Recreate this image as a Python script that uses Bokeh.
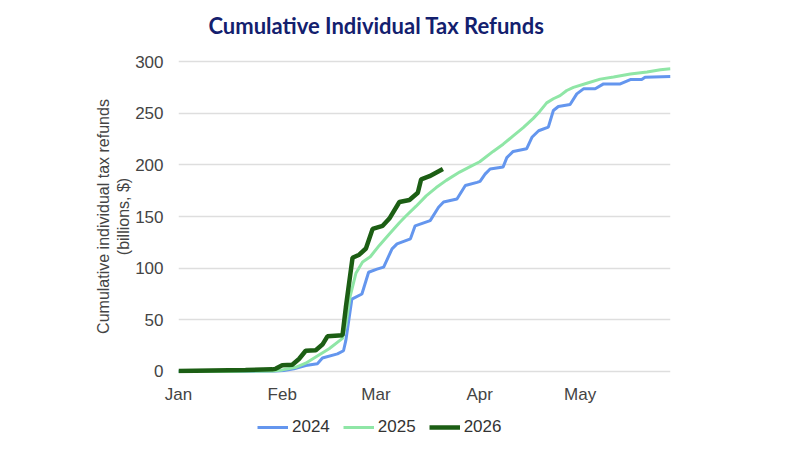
from bokeh.plotting import figure
from bokeh.layouts import column
from bokeh.models import Range1d, FixedTicker, Legend, LegendItem, Label
from bokeh.embed import file_html
from bokeh.resources import INLINE

# x values: day of year (0 = Jan 1)
month_ticks = [0, 31, 59, 90, 120]
month_labels = ["Jan", "Feb", "Mar", "Apr", "May"]
y_ticks = [0, 50, 100, 150, 200, 250, 300]

days_2024 = [0, 15, 29, 31.5, 34.5, 38, 41.5, 43, 47.5, 49.3, 50, 51.8, 54.8, 56.8, 59.3, 61.3,
             63.8, 65.3, 69.3, 70.7, 75.2, 77.7, 79.2, 83.2, 85.7, 89.2, 90.1, 91.6, 93.1, 97,
             98.1, 100, 104, 105.6, 107.6, 110.5, 112, 113.5, 117, 119, 121, 124.5, 127, 132,
             135, 138.4, 139.4, 147]
vals_2024 = [0, 0, 0.5, 1, 2.6, 5.8, 7.4, 13, 17, 20, 30, 70, 75, 96, 99, 101,
             118.7, 123.5, 128.4, 141, 146, 159, 164, 167, 180, 183, 184, 191, 196, 198,
             207, 213, 215.5, 226.7, 233, 236.5, 252.6, 256.5, 258.4, 268.7, 273.6, 273.6, 278.4, 278.4,
             282.6, 282.6, 284.8, 285.5]

days_2025 = [0, 15, 28, 31, 35, 38, 41, 45, 49, 50, 51.3, 53, 55, 57.3, 60, 63, 66, 67.8, 71, 74,
             77, 80, 84, 87, 90, 94, 97, 100, 103, 106, 108, 110, 112, 114, 116, 118, 122, 126,
             130, 135, 140, 144, 147]
vals_2025 = [0, 0, 0.5, 1.5, 4, 8, 14, 22, 32, 45, 73, 95, 106, 111, 122, 133, 144, 150, 160, 170,
             178, 185, 193, 198, 203, 213, 220, 228, 236, 245, 252, 260, 264, 267, 272, 275, 279, 283,
             285, 288, 290, 292, 293]

days_2026 = [0, 10, 20, 28, 29, 31, 34, 36, 38, 41, 43, 44.5, 49, 50, 52, 54, 56, 58, 61, 63, 66,
             69, 71.5, 72.5, 75, 79]
vals_2026 = [0.5, 1, 1.5, 2, 2.5, 6, 6.5, 12, 20, 20.5, 26, 34, 35, 62, 110, 113, 119, 138, 141,
             148, 164, 166, 173, 186, 189, 196]

series_names = ["2024", "2025", "2026"]
series_colors = ["#6496ee", "#8fe6a6", "#1c5e14"]
series_widths = [3, 3, 4.5]

FONT = "Liberation Sans"
W = 792
BL, BR = 178, 122

# ---- title strip
pt = figure(width=W, height=50, x_range=Range1d(0, 1), y_range=Range1d(0, 1),
            output_backend="svg", toolbar_location=None,
            x_axis_location=None, y_axis_location=None,
            min_border_left=BL, min_border_right=BR, min_border_top=0, min_border_bottom=0)
pt.outline_line_color = None
pt.xgrid.grid_line_color = None
pt.ygrid.grid_line_color = None
pt.add_layout(Label(x=198, y=25, x_units="screen", y_units="screen",
                    text="Cumulative Individual Tax Refunds", text_align="center",
                    text_baseline="middle", text_font="Lato", text_font_style="bold",
                    text_font_size="22px", text_color="#13206e"))

# ---- main chart
p = figure(width=W, height=360, x_range=Range1d(0, 147), y_range=Range1d(-2, 302),
           output_backend="svg", toolbar_location=None,
           min_border_left=BL, min_border_right=BR, min_border_top=9, min_border_bottom=37)
p.outline_line_color = None
p.background_fill_color = "white"
p.border_fill_color = "white"

for d, v, c, w in zip([days_2024, days_2025, days_2026], [vals_2024, vals_2025, vals_2026],
                      series_colors, series_widths):
    p.line(d, v, line_color=c, line_width=w)

p.xaxis.ticker = FixedTicker(ticks=month_ticks)
p.xaxis.major_label_overrides = {t: l for t, l in zip(month_ticks, month_labels)}
p.yaxis.ticker = FixedTicker(ticks=y_ticks)
for ax in (p.xaxis, p.yaxis):
    ax.axis_line_color = None
    ax.major_tick_line_color = None
    ax.minor_tick_line_color = None
    ax.major_tick_out = 0
    ax.major_tick_in = 0
    ax.minor_tick_out = 0
    ax.major_label_text_font = FONT
    ax.major_label_text_font_size = "17px"
    ax.major_label_text_color = "#444444"
p.xaxis.major_label_standoff = 11
p.yaxis.major_label_standoff = 15
p.yaxis.axis_label = "Cumulative individual tax refunds\n(billions, $)"
p.yaxis.axis_label_text_font = FONT
p.yaxis.axis_label_text_font_size = "16px"
p.yaxis.axis_label_text_font_style = "normal"
p.yaxis.axis_label_text_color = "#444444"
p.yaxis.axis_label_standoff = 0

p.xgrid.grid_line_color = None
p.ygrid.grid_line_color = "#dedede"
p.ygrid.grid_line_width = 1.5

# ---- legend strip
pl = figure(width=W, height=32, x_range=Range1d(0, 1), y_range=Range1d(0, 1),
            output_backend="svg", toolbar_location=None,
            x_axis_location=None, y_axis_location=None,
            min_border_left=BL, min_border_right=BR, min_border_top=0, min_border_bottom=0)
pl.outline_line_color = None
pl.xgrid.grid_line_color = None
pl.ygrid.grid_line_color = None
items = []
for name, c, w in zip(series_names, series_colors, series_widths):
    r = pl.line([0, 1], [-10, -10], line_color=c, line_width=w)
    items.append(LegendItem(label=name, renderers=[r]))
legend = Legend(items=items, orientation="horizontal", location=(79, 5))
legend.border_line_color = None
legend.background_fill_alpha = 0
legend.padding = 0
legend.margin = 0
legend.spacing = 13
legend.glyph_width = 31
legend.glyph_height = 20
legend.label_height = 20
legend.label_standoff = 4
legend.label_text_font = FONT
legend.label_text_font_size = "17px"
legend.label_text_color = "#333333"
pl.add_layout(legend, "center")

layout = column(pt, p, pl, spacing=0)
open("out.html", "w").write(file_html(layout, INLINE))
